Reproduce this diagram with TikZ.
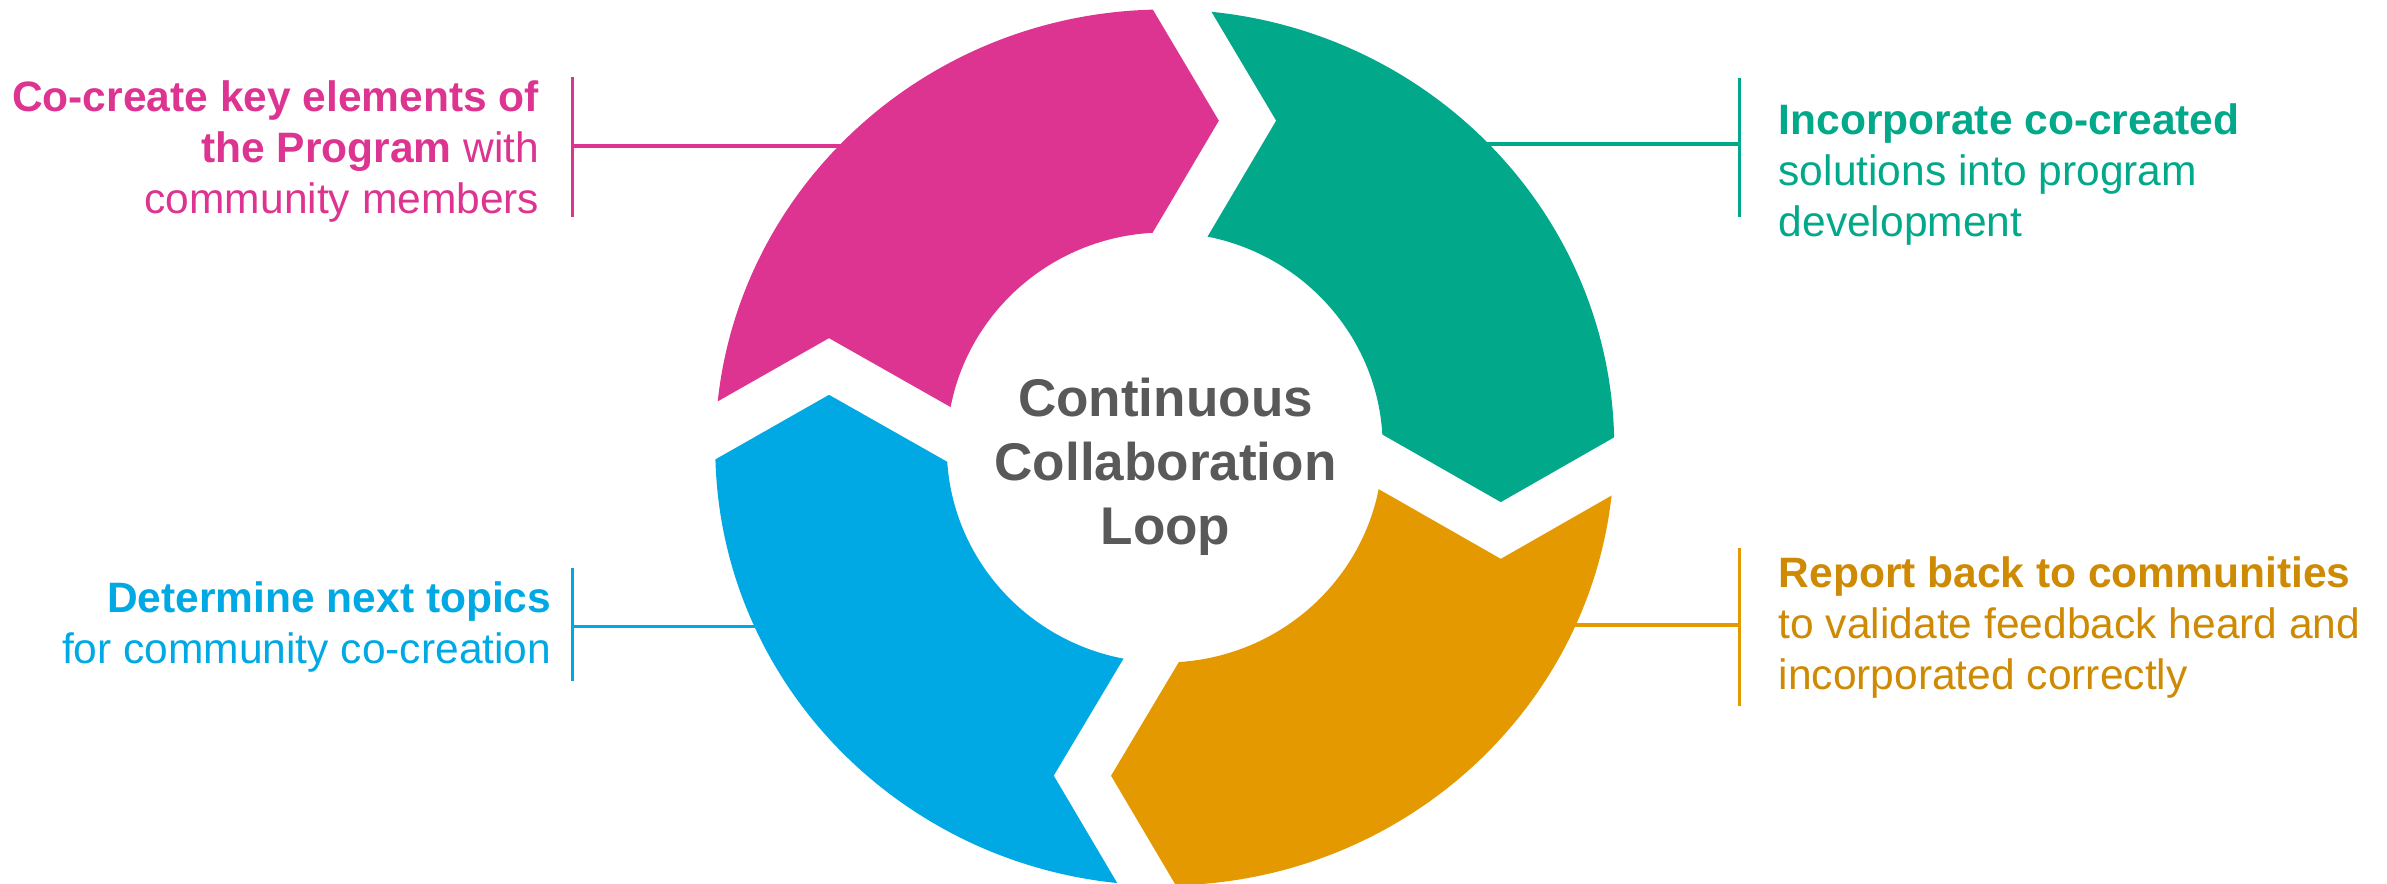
\documentclass[tikz,border=0pt]{standalone}
\usepackage{fontspec}
\setmainfont{Liberation Sans}
\usetikzlibrary{calc}

\definecolor{cpink}{RGB}{221,52,145}
\definecolor{cgreen}{RGB}{2,168,138}
\definecolor{corange}{RGB}{229,153,0}
\definecolor{corangetxt}{RGB}{207,138,4}
\definecolor{cblue}{RGB}{0,169,228}
\definecolor{cgray}{RGB}{89,89,89}

\begin{document}
\begin{tikzpicture}[
    label/.style={inner sep=0pt, font=\fontsize{12.1}{14.5}\selectfont},
    bar/.style={line width=1.1pt},
    gap/.style={white, line width=0.49cm, line join=miter},
    ring/.style={even odd rule}]
  \useasboundingbox (0,0) rectangle (23.87,8.84);

  \coordinate (C) at (11.6475,4.365);
  % gap centre lines: outer end, tip, inner end
  \coordinate (Lout) at (7.155,4.53);   \coordinate (Ltip) at (8.29,5.175);   \coordinate (Lin) at (9.476,4.503);
  \coordinate (Tout) at (11.82,8.735);  \coordinate (Ttip) at (12.475,7.633); \coordinate (Tin) at (11.79,6.475);
  \coordinate (Rout) at (16.14,4.182);  \coordinate (Rtip) at (15.008,3.535); \coordinate (Rin) at (13.825,4.21);
  \coordinate (Bout) at (11.464,0.0);   \coordinate (Btip) at (10.824,1.083); \coordinate (Bin) at (11.512,2.237);

  % label bars and leaders
  \coordinate (cobt) at (5.725,8.065);  \coordinate (cobb) at (5.725,6.673);
  \coordinate (com) at (5.725,7.38);    \coordinate (coend) at (8.5,7.38);
  \coordinate (inbt) at (17.395,8.063); \coordinate (inbb) at (17.395,6.673);
  \coordinate (inm) at (17.395,7.397);  \coordinate (inend) at (14.8,7.397);
  \coordinate (rebt) at (17.395,3.357); \coordinate (rebb) at (17.395,1.783);
  \coordinate (rem) at (17.395,2.59);   \coordinate (reend) at (15.6,2.59);
  \coordinate (debt) at (5.725,3.155);  \coordinate (debb) at (5.725,2.027);
  \coordinate (dem) at (5.725,2.575);   \coordinate (deend) at (7.7,2.575);

  \draw[bar, cpink] (cobt) -- (cobb);   \draw[bar, cpink] (com) -- (coend);
  \draw[bar, cgreen] (inbt) -- (inbb);  \draw[bar, cgreen] (inm) -- (inend);
  \draw[bar, corange] (rebt) -- (rebb); \draw[bar, corange] (rem) -- (reend);
  \draw[bar, cblue] (debt) -- (debb);   \draw[bar, cblue] (dem) -- (deend);

  % the four parts of the ring
  \begin{scope}
    \clip ($(Ltip)!2!(Lout)$) -- (Ltip) -- (Lin) -- (C) -- (Tin) -- (Ttip) -- ($(Ttip)!2!(Tout)$) -- (-1,10) -- cycle;
    \fill[ring, cpink] (C) ellipse [x radius=4.495, y radius=4.38] (C) ellipse [x radius=2.18, y radius=2.15];
  \end{scope}
  \begin{scope}
    \clip ($(Ttip)!2!(Tout)$) -- (Ttip) -- (Tin) -- (C) -- (Rin) -- (Rtip) -- ($(Rtip)!2!(Rout)$) -- (25,10) -- cycle;
    \fill[ring, cgreen] (C) ellipse [x radius=4.495, y radius=4.38] (C) ellipse [x radius=2.18, y radius=2.15];
  \end{scope}
  \begin{scope}
    \clip ($(Rtip)!2!(Rout)$) -- (Rtip) -- (Rin) -- (C) -- (Bin) -- (Btip) -- ($(Btip)!2!(Bout)$) -- (25,-2) -- cycle;
    \fill[ring, corange] (C) ellipse [x radius=4.495, y radius=4.38] (C) ellipse [x radius=2.18, y radius=2.15];
  \end{scope}
  \begin{scope}
    \clip ($(Btip)!2!(Bout)$) -- (Btip) -- (Bin) -- (C) -- (Lin) -- (Ltip) -- ($(Ltip)!2!(Lout)$) -- (-1,-2) -- cycle;
    \fill[ring, cblue] (C) ellipse [x radius=4.495, y radius=4.38] (C) ellipse [x radius=2.18, y radius=2.15];
  \end{scope}

  % white chevron gaps
  \foreach \g in {L,T,R,B}
    \draw[gap] ($(\g tip)!1.4!(\g out)$) -- (\g tip) -- ($(\g tip)!1.4!(\g in)$);

  % texts
  \node[inner sep=0pt, align=center, text=cgray, font=\fontsize{15.1}{18.2}\selectfont\bfseries]
    (loop) at (11.655,4.17) {Continuous\\Collaboration\\Loop};
  \node[label, anchor=north east, align=right, text=cpink] (co) at (5.40,8.043)
    {\textbf{Co-create key elements of}\\\textbf{the Program} with\\community members};
  \node[label, anchor=north west, align=left, text=cgreen] (inc) at (17.78,7.81)
    {\textbf{Incorporate co-created}\\solutions into program\\development};
  \node[label, anchor=north west, align=left, text=corangetxt] (rep) at (17.78,3.28)
    {\textbf{Report back to communities}\\to validate feedback heard and\\incorporated correctly};
  \node[label, anchor=north east, align=right, text=cblue] (det) at (5.52,3.03)
    {\textbf{Determine next topics}\\for community co-creation};
\end{tikzpicture}
\end{document}
